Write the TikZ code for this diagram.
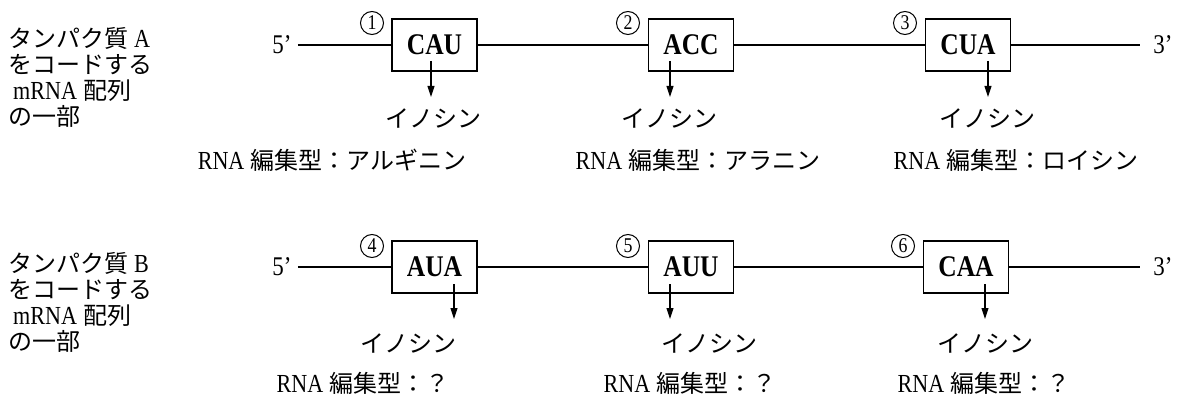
\documentclass[tikz,border=0pt]{standalone}
\usepackage{fontspec}
\setmainfont{Liberation Serif}[FakeStretch=0.85]
\newfontfamily\jpfont{Noto Sans CJK JP}
\usetikzlibrary{arrows.meta}
% Japanese run inside Latin text, and Latin run inside Japanese text
\newcommand\jtxt[1]{{\jpfont\fontsize{24pt}{26pt}\selectfont #1}}
\newcommand\ltxt[1]{{\rmfamily\fontsize{26pt}{26pt}\selectfont #1}}
\tikzset{
  strand/.style={line width=1.1pt},
  codon/.style={draw, line width=1.8pt, minimum width=85pt, minimum height=52pt,
    inner sep=0pt, font=\fontsize{30pt}{30pt}\selectfont\bfseries},
  sitenum/.style={circle, draw, line width=1pt, minimum size=23pt, inner sep=0pt,
    font=\fontsize{21pt}{21pt}\selectfont},
  endlabel/.style={inner sep=0pt, font=\fontsize{27pt}{27pt}\selectfont},
  edit/.style={-{Triangle[width=7pt,length=11pt]}, line width=1.1pt},
  ino/.style={inner sep=0pt, font=\jpfont\fontsize{24pt}{26pt}\selectfont},
  result/.style={inner sep=0pt, font=\fontsize{26pt}{28pt}\selectfont},
  protein/.style={inner sep=0pt, align=left, anchor=west,
    font=\jpfont\fontsize{24pt}{26pt}\selectfont},
}
\begin{document}
\begin{tikzpicture}[x=1pt, y=-1pt]
\fill[white] (0,0) rectangle (1179,396);
\useasboundingbox (0,0) rectangle (1179,396);

% ---------- protein A ----------
\node[protein] (pA) at (8,77) {タンパク質\hspace{6pt}\ltxt{A}\\をコードする\\\hspace{5pt}\ltxt{mRNA}\hspace{6pt}配列\\の一部};

\node[endlabel] (fA) at (282,45) {5’};
\node[endlabel] (tA) at (1163,45) {3’};
\coordinate (endA) at (1140,45);

\node[codon] (b1) at (434.5,45) {CAU};
\node[codon] (b2) at (691,45) {ACC};
\node[codon] (b3) at (968,45) {CUA};
\node[sitenum] (n1) at (372,23) {1};
\node[sitenum] (n2) at (628,23) {2};
\node[sitenum] (n3) at (905,23) {3};

\draw[strand, shorten <=6pt] (fA.east) -- (b1.west);
\draw[strand] (b1.east) -- (b2.west);
\draw[strand] (b2.east) -- (b3.west);
\draw[strand] (b3.east) -- (endA);

\coordinate (s1) at (431,61);  \coordinate (e1) at (431,97);
\coordinate (s2) at (670,61);  \coordinate (e2) at (670,97);
\coordinate (s3) at (988,61);  \coordinate (e3) at (988,97);
\draw[edit] (s1) -- (e1);
\draw[edit] (s2) -- (e2);
\draw[edit] (s3) -- (e3);

\node[ino] (i1) at (433,118) {イノシン};
\node[ino] (i2) at (669,118) {イノシン};
\node[ino] (i3) at (987,118) {イノシン};

\node[result] (r1) at (332,160) {RNA\hspace{6pt}\jtxt{編集型：アルギニン}};
\node[result] (r2) at (698,160) {RNA\hspace{6pt}\jtxt{編集型：アラニン}};
\node[result] (r3) at (1016,160) {RNA\hspace{6pt}\jtxt{編集型：ロイシン}};

% ---------- protein B ----------
\node[protein] (pB) at (8,302) {タンパク質\hspace{6pt}\ltxt{B}\\をコードする\\\hspace{5pt}\ltxt{mRNA}\hspace{6pt}配列\\の一部};

\node[endlabel] (fB) at (282,267) {5’};
\node[endlabel] (tB) at (1163,267) {3’};
\coordinate (endB) at (1140,267);

\node[codon] (b4) at (434.5,267) {AUA};
\node[codon] (b5) at (691,267) {AUU};
\node[codon] (b6) at (966,267) {CAA};
\node[sitenum] (n4) at (372,246) {4};
\node[sitenum] (n5) at (628,246) {5};
\node[sitenum] (n6) at (903,246) {6};

\draw[strand, shorten <=6pt] (fB.east) -- (b4.west);
\draw[strand] (b4.east) -- (b5.west);
\draw[strand] (b5.east) -- (b6.west);
\draw[strand] (b6.east) -- (endB);

\coordinate (s4) at (454,284);  \coordinate (e4) at (454,319);
\coordinate (s5) at (670,284);  \coordinate (e5) at (670,319);
\coordinate (s6) at (985,284);  \coordinate (e6) at (985,319);
\draw[edit] (s4) -- (e4);
\draw[edit] (s5) -- (e5);
\draw[edit] (s6) -- (e6);

\node[ino] (i4) at (408,343) {イノシン};
\node[ino] (i5) at (709,343) {イノシン};
\node[ino] (i6) at (985,343) {イノシン};

\node[result] (r4) at (363,383) {RNA\hspace{6pt}\jtxt{編集型：？}};
\node[result] (r5) at (690,383) {RNA\hspace{6pt}\jtxt{編集型：？}};
\node[result] (r6) at (984,383) {RNA\hspace{6pt}\jtxt{編集型：？}};
\end{tikzpicture}
\end{document}
